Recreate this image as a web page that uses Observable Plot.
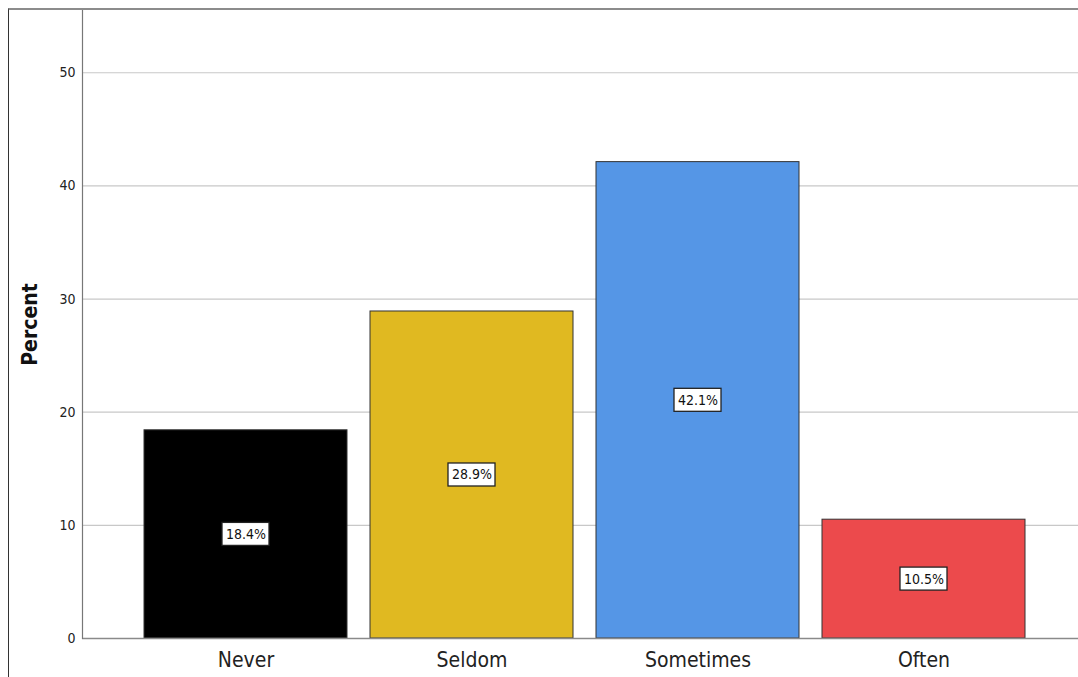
<!DOCTYPE html>
<html><head><meta charset="utf-8">
<script src="https://cdn.jsdelivr.net/npm/d3@7"></script>
<script src="https://cdn.jsdelivr.net/npm/@observablehq/plot@0.6"></script>
<style>
body{margin:0;background:#fff;}
#wrap{position:relative;width:1078px;height:677px;overflow:hidden;}
#border{position:absolute;left:8px;top:8px;right:-5px;bottom:-5px;border-left:1px solid #333;border-top:2px solid #8c8c8c;}
#chart{position:absolute;left:0;top:0;}
</style></head><body><div id="wrap"><div id="border"></div><div id="chart"></div></div>
<script>
const categories = ["Never", "Seldom", "Sometimes", "Often"];
const percents = [18.4, 28.9, 42.1, 10.5];
const colors = ["#000000", "#e0b921", "#5596e6", "#ec4a4c"];
const yTicks = [0, 10, 20, 30, 40, 50];
const yLabel = "Percent";

const data = categories.map((c, i) => ({category: c, value: percents[i], color: colors[i], label: percents[i].toFixed(1) + "%"}));
const font = "'DejaVu Sans Condensed', 'Liberation Sans Narrow', 'Open Sans', sans-serif";

const chart = Plot.plot({
  width: 1078,
  height: 677,
  marginLeft: 82,
  marginRight: 0,
  marginTop: 10,
  marginBottom: 39,
  style: {fontFamily: font, background: "transparent", color: "#222"},
  x: {domain: categories, range: [82, 1088], paddingInner: 0.1, paddingOuter: 0.274},
  y: {domain: [0, 55.5], ticks: yTicks},
  marks: [
    Plot.ruleY(yTicks.filter(t => t > 0), {stroke: "#c8c8c8", strokeWidth: 1.2}),
    Plot.barY(data, {x: "category", y: "value", fill: "color", stroke: "#333", strokeWidth: 1}),
    Plot.ruleY([0], {stroke: "#8a8a8a", strokeWidth: 1.5}),
    Plot.frame({anchor: "left", stroke: "#777", strokeWidth: 1.2}),
    Plot.rect(data, {x: "category", y1: d => d.value / 2, y2: d => d.value / 2, insetLeft: 78, insetRight: 78, insetTop: -11.5, insetBottom: -11.5, fill: "white", stroke: "#222", strokeWidth: 1.3}),
    Plot.text(data, {x: "category", y: d => d.value / 2, text: "label", fontSize: 14, fill: "#111"}),
    Plot.axisY({ticks: yTicks, tickSize: 0, tickPadding: 7, fontSize: 14, label: null}),
    Plot.axisX({tickSize: 0, tickPadding: 14, fontSize: 21, label: null}),
    Plot.text([yLabel], {frameAnchor: "left", textAnchor: "middle", rotate: -90, dx: -52, fontSize: 21, fontWeight: "bold", fill: "#111"})
  ]
});
document.getElementById("chart").appendChild(chart);
</script></body></html>
